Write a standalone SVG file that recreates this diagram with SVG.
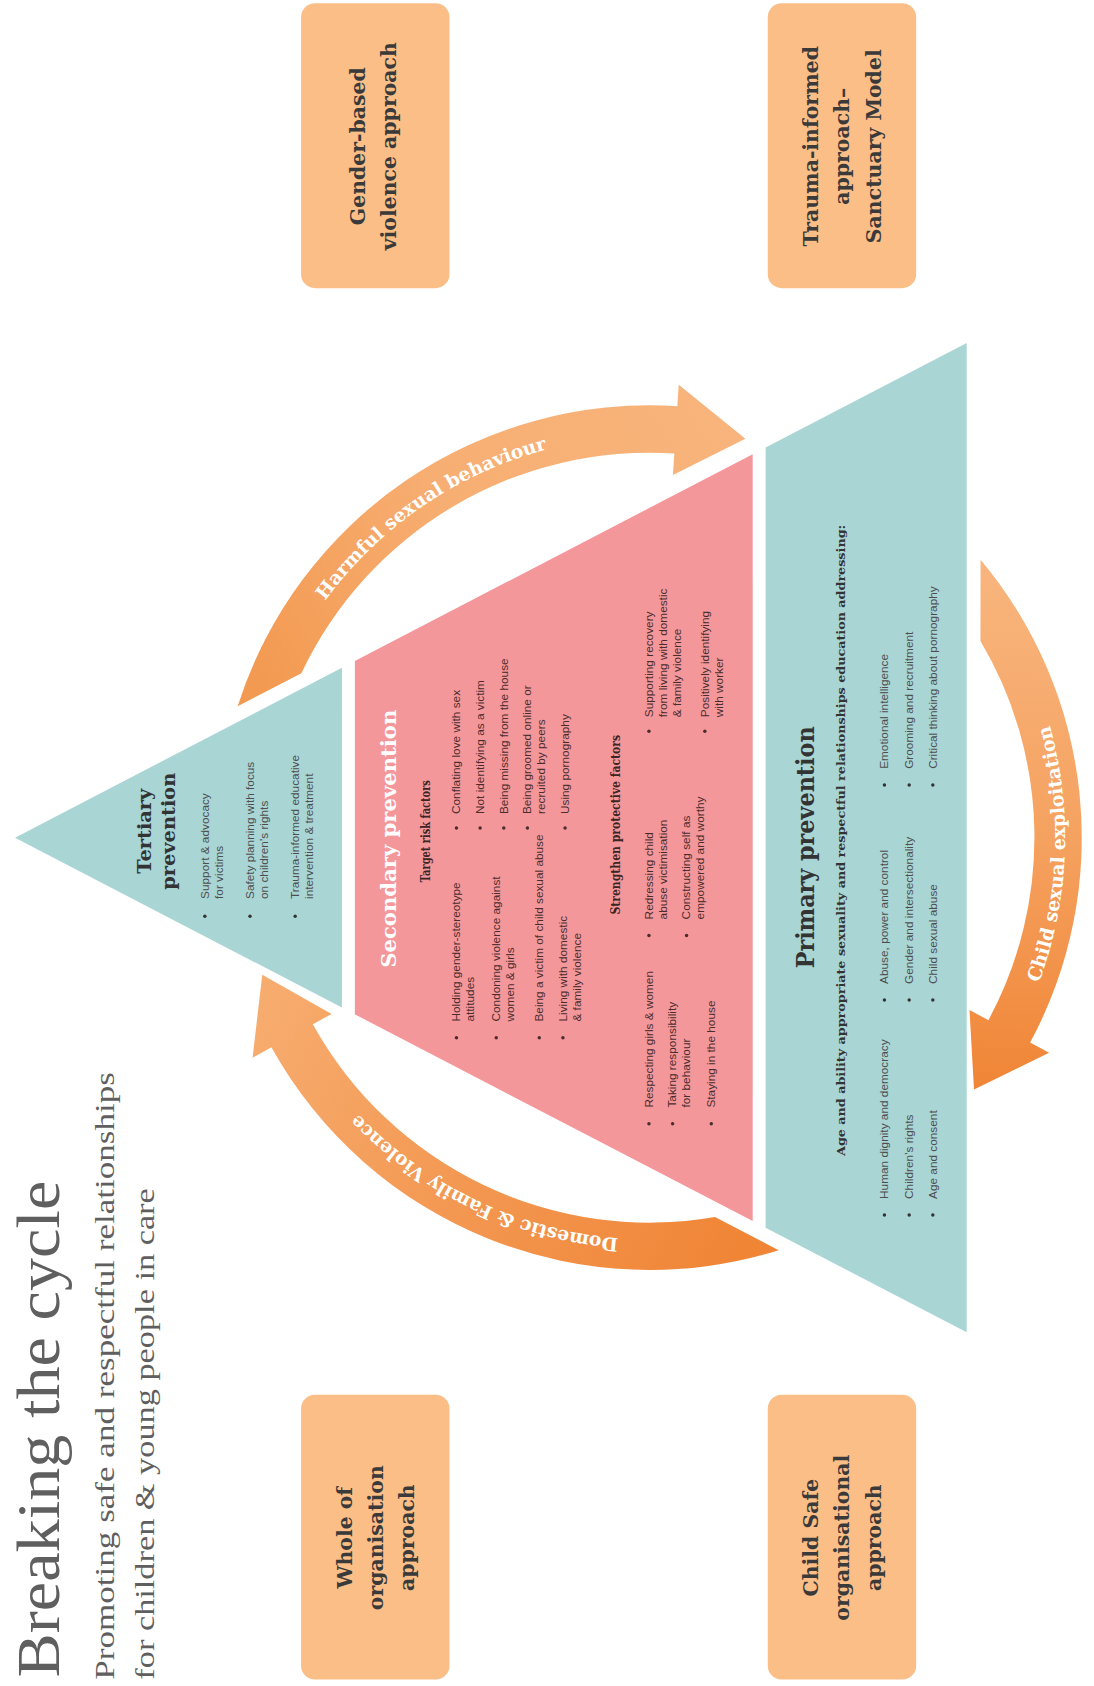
<svg xmlns="http://www.w3.org/2000/svg" width="1094" height="1686" viewBox="0 0 1094 1686">
<defs>
<style>
.ttl{font-family:"Liberation Serif","DejaVu Serif",serif;fill:#5f5f5f}
.h{font-family:"DejaVu Serif","Liberation Serif",serif;font-weight:bold;fill:#333333}
.b{font-family:"Liberation Sans",Arial,sans-serif;font-size:11px;fill:#4d4d4d}
.bp{fill:#4a2c2c}
.dot{fill:#333333}
.dotp{fill:#4a2c2c}
.box{fill:#FBBE87}
.bt{font-family:"DejaVu Serif","Liberation Serif",serif;font-weight:bold;font-size:19px;fill:#3a3a3a;text-anchor:middle}
.al{font-family:"DejaVu Serif","Liberation Serif",serif;font-weight:bold;font-size:17.5px;fill:#ffffff;text-anchor:middle}
.teal{fill:#A9D5D5}
.pink{fill:#F4979B}
</style>
<linearGradient id="gH" gradientUnits="userSpaceOnUse" x1="250" y1="640" x2="690" y2="407">
<stop offset="0" stop-color="#F39A52"/><stop offset="0.45" stop-color="#F7AE72"/><stop offset="1" stop-color="#F8B47C"/>
</linearGradient>
<linearGradient id="gC" gradientUnits="userSpaceOnUse" x1="912" y1="540" x2="905" y2="1013">
<stop offset="0" stop-color="#F8B47C"/><stop offset="0.5" stop-color="#F5A260"/><stop offset="1" stop-color="#F08536"/>
</linearGradient>
<linearGradient id="gD" gradientUnits="userSpaceOnUse" x1="695" y1="1147" x2="244" y2="906">
<stop offset="0" stop-color="#F08536"/><stop offset="0.5" stop-color="#F39852"/><stop offset="1" stop-color="#F7AD70"/>
</linearGradient>
<path id="pH" d="M 239.35,698.16 A 373.5 373.5 0 0 1 684.84,414.35"/>
<path id="pC" d="M 874.42,1055.14 A 386.5 386.5 0 0 0 880.14,508.58"/>
<path id="pD" d="M 728.68,1131.08 A 373.5 373.5 0 0 1 251.92,903.68"/>
</defs>
<rect width="1094" height="1686" fill="#ffffff"/>
<g transform="scale(1.0753)">

<g id="title" transform="translate(0,1568) rotate(-90)">
<text class="ttl" x="8" y="55" font-size="56" textLength="462" lengthAdjust="spacingAndGlyphs">Breaking the cycle</text>
<text class="ttl" x="6" y="106" font-size="25" textLength="565" lengthAdjust="spacingAndGlyphs">Promoting safe and respectful relationships</text>
<text class="ttl" x="6" y="143" font-size="25" textLength="457" lengthAdjust="spacingAndGlyphs">for children &amp; young people in care</text>
</g>

<g id="box-gender">
<rect class="box" x="280" y="3" width="138" height="265" rx="13"/>
<g transform="translate(0,1568) rotate(-90)">
<text class="bt" x="1432" y="339">Gender-based</text>
<text class="bt" x="1432" y="368">violence approach</text>
</g>
</g>
<g id="box-trauma">
<rect class="box" x="714" y="3" width="138" height="265" rx="13"/>
<g transform="translate(0,1568) rotate(-90)">
<text class="bt" x="1432" y="761">Trauma-informed</text>
<text class="bt" x="1432" y="790">approach–</text>
<text class="bt" x="1432" y="819">Sanctuary Model</text>
</g>
</g>
<g id="box-whole">
<rect class="box" x="280" y="1297" width="138" height="265" rx="13"/>
<g transform="translate(0,1568) rotate(-90)">
<text class="bt" x="138" y="327">Whole of</text>
<text class="bt" x="138" y="356">organisation</text>
<text class="bt" x="138" y="385">approach</text>
</g>
</g>
<g id="box-childsafe">
<rect class="box" x="714" y="1297" width="138" height="265" rx="13"/>
<g transform="translate(0,1568) rotate(-90)">
<text class="bt" x="138" y="761">Child Safe</text>
<text class="bt" x="138" y="790">organisational</text>
<text class="bt" x="138" y="819">approach</text>
</g>
</g>

<g id="tertiary">
<polygon class="teal" points="14,779 318,621 318,937"/>
<g transform="translate(0,1568) rotate(-90)">
<text class="h" x="795" y="140" font-size="18" text-anchor="middle">Tertiary</text>
<text class="h" x="795" y="163" font-size="18" text-anchor="middle">prevention</text>
<circle class="dot" cx="716" cy="190.5" r="1.6"/>
<circle class="dot" cx="716" cy="232.5" r="1.6"/>
<circle class="dot" cx="716" cy="274.5" r="1.6"/>
<text class="b" x="732" y="194">Support &amp; advocacy</text>
<text class="b" x="732" y="207">for victims</text>
<text class="b" x="732" y="236">Safety planning with focus</text>
<text class="b" x="732" y="249">on children’s rights</text>
<text class="b" x="732" y="278">Trauma-informed educative</text>
<text class="b" x="732" y="291">intervention &amp; treatment</text>
</g>
</g>

<g id="secondary">
<polygon class="pink" points="330,614.7 700,422.4 700,1135.6 330,943.3"/>
<g transform="translate(0,1568) rotate(-90)">
<text class="h" x="788" y="368" font-size="19" text-anchor="middle" style="fill:#ffffff" textLength="240" lengthAdjust="spacingAndGlyphs">Secondary prevention</text>
<text class="h" x="795" y="400" font-size="12" text-anchor="middle" style="fill:#3b2424" textLength="95" lengthAdjust="spacingAndGlyphs">Target risk factors</text>
<circle class="dotp" cx="603" cy="424.5" r="1.6"/>
<circle class="dotp" cx="603" cy="461.5" r="1.6"/>
<circle class="dotp" cx="603" cy="501.5" r="1.6"/>
<circle class="dotp" cx="603" cy="523.5" r="1.6"/>
<text class="b bp" x="618" y="428">Holding gender-stereotype</text>
<text class="b bp" x="618" y="441">attitudes</text>
<text class="b bp" x="618" y="465">Condoning violence against</text>
<text class="b bp" x="618" y="478">women &amp; girls</text>
<text class="b bp" x="618" y="505">Being a victim of child sexual abuse</text>
<text class="b bp" x="618" y="527">Living with domestic</text>
<text class="b bp" x="618" y="540">&amp; family violence</text>
<circle class="dotp" cx="798" cy="424.5" r="1.6"/>
<circle class="dotp" cx="798" cy="446.5" r="1.6"/>
<circle class="dotp" cx="798" cy="468.5" r="1.6"/>
<circle class="dotp" cx="798" cy="490.5" r="1.6"/>
<circle class="dotp" cx="798" cy="525.5" r="1.6"/>
<text class="b bp" x="811" y="428">Conflating love with sex</text>
<text class="b bp" x="811" y="450">Not identifying as a victim</text>
<text class="b bp" x="811" y="472">Being missing from the house</text>
<text class="b bp" x="811" y="494">Being groomed online or</text>
<text class="b bp" x="811" y="507">recruited by peers</text>
<text class="b bp" x="811" y="529">Using pornography</text>
<text class="h" x="801" y="577" font-size="12" text-anchor="middle" style="fill:#3b2424" textLength="167" lengthAdjust="spacingAndGlyphs">Strengthen protective factors</text>
<circle class="dotp" cx="523" cy="603.5" r="1.6"/>
<circle class="dotp" cx="523" cy="625.5" r="1.6"/>
<circle class="dotp" cx="523" cy="661.5" r="1.6"/>
<text class="b bp" x="538" y="607">Respecting girls &amp; women</text>
<text class="b bp" x="538" y="629">Taking responsibility</text>
<text class="b bp" x="538" y="642">for behaviour</text>
<text class="b bp" x="538" y="665">Staying in the house</text>
<circle class="dotp" cx="698" cy="603.5" r="1.6"/>
<circle class="dotp" cx="698" cy="638.5" r="1.6"/>
<text class="b bp" x="713" y="607">Redressing child</text>
<text class="b bp" x="713" y="620">abuse victimisation</text>
<text class="b bp" x="713" y="642">Constructing self as</text>
<text class="b bp" x="713" y="655">empowered and worthy</text>
<circle class="dotp" cx="888" cy="603.5" r="1.6"/>
<circle class="dotp" cx="888" cy="655.5" r="1.6"/>
<text class="b bp" x="901" y="607">Supporting recovery</text>
<text class="b bp" x="901" y="620">from living with domestic</text>
<text class="b bp" x="901" y="633">&amp; family violence</text>
<text class="b bp" x="901" y="659">Positively identifying</text>
<text class="b bp" x="901" y="672">with worker</text>
</g>
</g>

<g id="primary">
<polygon class="teal" points="712,416.2 899,319 899,1239 712,1141.8"/>
<g transform="translate(0,1568) rotate(-90)">
<text class="h" x="780" y="757" font-size="22" text-anchor="middle" textLength="225" lengthAdjust="spacingAndGlyphs">Primary prevention</text>
<text class="h" x="786.5" y="786" font-size="10.5" text-anchor="middle" textLength="587" lengthAdjust="spacingAndGlyphs">Age and ability appropriate sexuality and respectful relationships education addressing:</text>
<circle class="dot" cx="438" cy="822.5" r="1.6"/>
<circle class="dot" cx="438" cy="845.5" r="1.6"/>
<circle class="dot" cx="438" cy="867.5" r="1.6"/>
<text class="b" x="453" y="826">Human dignity and democracy</text>
<text class="b" x="453" y="849">Children’s rights</text>
<text class="b" x="453" y="871">Age and consent</text>
<circle class="dot" cx="638" cy="822.5" r="1.6"/>
<circle class="dot" cx="638" cy="845.5" r="1.6"/>
<circle class="dot" cx="638" cy="867.5" r="1.6"/>
<text class="b" x="653" y="826">Abuse, power and control</text>
<text class="b" x="653" y="849">Gender and intersectionality</text>
<text class="b" x="653" y="871">Child sexual abuse</text>
<circle class="dot" cx="838" cy="822.5" r="1.6"/>
<circle class="dot" cx="838" cy="845.5" r="1.6"/>
<circle class="dot" cx="838" cy="867.5" r="1.6"/>
<text class="b" x="853" y="826">Emotional intelligence</text>
<text class="b" x="853" y="849">Grooming and recruitment</text>
<text class="b" x="853" y="871">Critical thinking about pornography</text>
</g>
</g>

<g id="connectors">
<path id="arrow-harmful" fill="url(#gH)" d="M 221.0,656.8 A 402 402 0 0 1 629.9,377.8 L 631.2,357.9 L 693.2,408.1 L 625.8,441.7 L 627.1,421.7 A 358 358 0 0 0 280.3,626.0 Z"/>
<path id="arrow-cse" fill="url(#gC)" d="M 911.9,520.6 A 402 402 0 0 1 958.0,969.6 L 975.6,979.1 L 905.8,1013.1 L 901.6,939.2 L 919.2,948.7 A 358 358 0 0 0 911.8,596.2 Z"/>
<path id="arrow-dfv" fill="url(#gD)" d="M 724.2,1162.6 A 402 402 0 0 1 252.4,973.9 L 234.9,983.6 L 243.9,906.5 L 308.4,942.9 L 290.9,952.6 A 358 358 0 0 0 664.9,1131.8 Z"/>
<text class="al"><textPath href="#pH" startOffset="48%">Harmful sexual behaviour</textPath></text>
<text class="al"><textPath href="#pC" startOffset="48%">Child sexual exploitation</textPath></text>
<text class="al"><textPath href="#pD" startOffset="50%">Domestic &amp; Family Violence</textPath></text>
</g>

</g>
</svg>
